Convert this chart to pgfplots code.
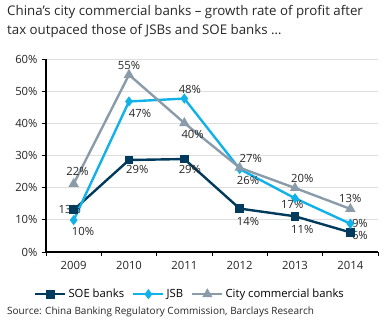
\documentclass[border=0pt]{standalone}
\usepackage{pgfplots}
\pgfplotsset{compat=1.18}
\usepackage{fontspec}
\setmainfont{Open Sans}
\definecolor{soe}{RGB}{0,58,92}
\definecolor{jsb}{RGB}{18,178,232}
\definecolor{city}{RGB}{138,156,170}
\definecolor{gridc}{RGB}{222,222,222}
\begin{document}
\begin{tikzpicture}[x=1bp,y=1bp]
\useasboundingbox (-46,-74) rectangle (344,252);
\begin{axis}[
  at={(0,0)}, anchor=south west,
  scale only axis, width=332bp, height=193bp,
  xmin=-0.5, xmax=5.5, ymin=0, ymax=60,
  axis lines*=left, axis line style={black, line width=1.3bp},
  xtick={0,...,5}, xticklabels={2009,2010,2011,2012,2013,2014},
  major x tick style={draw=none},
  minor xtick={-0.5,0.5,...,5.5},
  minor tick length=4bp, major tick length=4bp,
  tick align=outside, tick style={black, line width=0.9bp},
  ytick={0,10,...,60},
  yticklabel={\pgfmathprintnumber{\tick}\%},
  /pgf/number format/assume math mode=true,
  ymajorgrids, grid style={gridc, line width=0.8bp},
  tick label style={font=\fontsize{11.3bp}{13bp}\selectfont, text=black!85},
  xticklabel style={yshift=-2bp},
  yticklabel style={xshift=-1bp},
  legend style={at={(144bp,-33bp)}, anchor=north, draw=none, fill=none,
    legend columns=-1, font=\fontsize{11.3bp}{13bp}\selectfont,
    /tikz/every even column/.append style={column sep=6bp}},
  legend image code/.code={\draw[#1] (0bp,0bp) -- (30bp,0bp); \draw[#1, mark repeat=2, mark phase=2] plot coordinates {(0bp,0bp) (15bp,0bp) (30bp,0bp)};},
  clip=false,
]
\addplot[soe, line width=2.4bp, mark=square*, mark size=3.2bp, mark options={solid}]
 coordinates {(0,13.1) (1,28.6) (2,28.9) (3,13.5) (4,11.1) (5,6.1)};
\addlegendentry{SOE banks}
\addplot[jsb, line width=2.4bp, mark=diamond*, mark size=3.2bp]
 coordinates {(0,9.9) (1,46.8) (2,47.7) (3,25.8) (4,16.7) (5,8.8)};
\addlegendentry{JSB}
\addplot[city, line width=2.4bp, mark=triangle*, mark size=3.6bp]
 coordinates {(0,21.2) (1,55.1) (2,40.1) (3,26.2) (4,19.9) (5,13.4)};
\addlegendentry{City commercial banks}
\begin{scope}[every node/.style={font=\fontsize{11.3bp}{13bp}\selectfont, text=black!85, inner sep=1.5bp}]
% SOE
\node[anchor=center] at (axis cs:-0.07,13.1) {13\%};
\node[anchor=north] at (axis cs:1.15,27.5) {29\%};
\node[anchor=north] at (axis cs:2.1,27.5) {29\%};
\node[anchor=north] at (axis cs:3.15,11.3) {14\%};
\node[anchor=north] at (axis cs:4.13,8.9) {11\%};
\node[anchor=west] at (axis cs:5.0,5.2) {6\%};
% JSB
\node[anchor=north] at (axis cs:0.17,8.2) {10\%};
\node[anchor=north] at (axis cs:1.2,45) {47\%};
\node[anchor=south] at (axis cs:2.1,48.8) {48\%};
\node[anchor=north] at (axis cs:3.15,24.2) {26\%};
\node[anchor=north] at (axis cs:3.95,16.7) {17\%};
\node[anchor=west] at (axis cs:5.0,8.9) {9\%};
% City
\node[anchor=south] at (axis cs:0.07,23.2) {22\%};
\node[anchor=south] at (axis cs:1.0,56.2) {55\%};
\node[anchor=north] at (axis cs:2.15,38.5) {40\%};
\node[anchor=south] at (axis cs:3.2,27.3) {27\%};
\node[anchor=south] at (axis cs:4.13,21.0) {20\%};
\node[anchor=south] at (axis cs:5.0,14.8) {13\%};
\end{scope}
\end{axis}
\node[anchor=north west, align=left, font=\fontsize{13.3bp}{19bp}\selectfont, text=black!85, inner sep=0pt] at (-39,247) {China’s city commercial banks – growth rate of profit after\\tax outpaced those of JSBs and SOE banks …};
\node[anchor=west, font=\fontsize{10bp}{11bp}\selectfont, text=black!85, inner sep=0pt] at (-39,-60) {Source: China Banking Regulatory Commission, Barclays Research};
\end{tikzpicture}
\end{document}
